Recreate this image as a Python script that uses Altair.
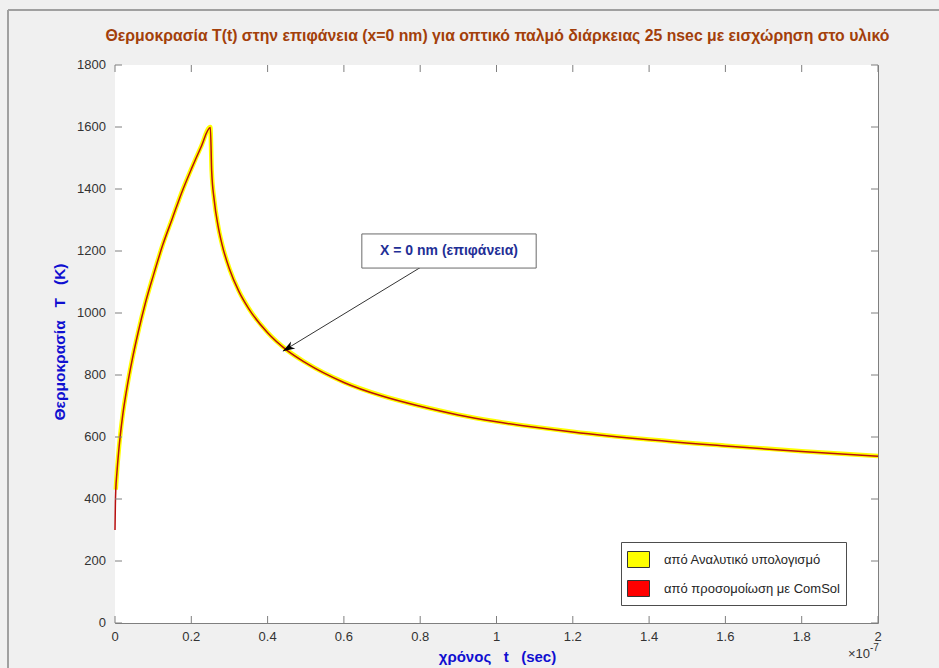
import altair as alt
import pandas as pd

# Surface temperature T(t) at x = 0 nm, time in units of 1e-7 s
t_analytic = [0.002, 0.005, 0.01, 0.02, 0.03, 0.045, 0.06, 0.08, 0.1, 0.125, 0.15, 0.175,
              0.2, 0.225, 0.25, 0.2534, 0.26, 0.27, 0.28, 0.3, 0.325, 0.35, 0.4, 0.45, 0.5,
              0.6, 0.7, 0.8, 0.9, 1.0, 1.2, 1.4, 1.6, 1.8, 2.0]
T_analytic = [430, 485, 560, 670, 750, 850, 935, 1035, 1120, 1220, 1305, 1390,
              1465, 1535, 1600, 1460, 1366, 1283, 1225, 1143, 1070, 1016, 937, 881, 840,
              777, 733, 700, 672, 650, 617, 592, 572, 554, 539]

t_comsol = [0.0, 0.001, 0.002, 0.005, 0.01, 0.02, 0.03, 0.045, 0.06, 0.08, 0.1, 0.125, 0.15,
            0.175, 0.2, 0.225, 0.25, 0.2534, 0.26, 0.27, 0.28, 0.3, 0.325, 0.35, 0.4, 0.45,
            0.5, 0.6, 0.7, 0.8, 0.9, 1.0, 1.2, 1.4, 1.6, 1.8, 2.0]
T_comsol = [300, 385, 428, 484, 558, 668, 749, 849, 934, 1034, 1119, 1219, 1304,
            1389, 1464, 1534, 1598, 1458, 1365, 1282, 1224, 1142, 1069, 1015, 936, 880,
            839, 776, 732, 699, 671, 649, 616, 591, 571, 553, 538]

series_names = ["από Αναλυτικό υπολογισμό", "από προσομοίωση με ComSol"]
series_colors = ["#ffff00", "#ff0000"]

x_ticks = [0, 0.2, 0.4, 0.6, 0.8, 1.0, 1.2, 1.4, 1.6, 1.8, 2.0]
y_ticks = [0, 200, 400, 600, 800, 1000, 1200, 1400, 1600, 1800]

title_text = ("Θερμοκρασία T(t) στην επιφάνεια (x=0 nm) για οπτικό παλμό "
              "διάρκειας 25 nsec με εισχώρηση στο υλικό")
x_title = "χρόνος\u00a0\u00a0\u00a0t\u00a0\u00a0\u00a0(sec)"
y_title = "Θερμοκρασία\u00a0\u00a0\u00a0T\u00a0\u00a0\u00a0(K)"

# annotation: label box (t range, T range), label centre, arrow tail and head
note_text = "X = 0 nm (επιφάνεια)"
note_box_t = [0.647, 1.104]
note_box_T = [1145, 1255]
note_center = [0.8755, 1200]
arrow_tail = [0.802, 1148]
arrow_head = [0.440, 877]

W, H = 763, 558
FONT = "Liberation Sans"
AXIS_GRAY = "#7f7f7f"
LABEL_GRAY = "#333333"
BLUE = "#0f0fd0"

analytic = pd.DataFrame({"t": t_analytic, "T": T_analytic})
comsol = pd.DataFrame({"t": t_comsol, "T": T_comsol})
legend_df = pd.DataFrame({"series": series_names})
xt_df = pd.DataFrame({"v": x_ticks})
yt_df = pd.DataFrame({"v": y_ticks})
one = pd.DataFrame({"k": [0]})

x_scale = alt.Scale(domain=[0, 2], nice=False, zero=False)
y_scale = alt.Scale(domain=[0, 1800], nice=False)


def X(field):
    return alt.X(field, scale=x_scale, axis=None)


def Y(field):
    return alt.Y(field, scale=y_scale, axis=None)


def label(text, **mark):
    return alt.Chart(pd.DataFrame({"s": [text]})).mark_text(**mark)


# white plot area
plot_bg = alt.Chart(one).mark_rect(fill="white").encode(
    x=alt.value(0), x2=alt.value(W), y=alt.value(0), y2=alt.value(H))

yellow = alt.Chart(analytic).mark_line(
    color="#ffff00", strokeWidth=4.5, interpolate="monotone"
).encode(x=X("t:Q"), y=Y("T:Q"))

red = alt.Chart(comsol).mark_line(
    color="#b80f0f", strokeWidth=1.5, interpolate="monotone"
).encode(x=X("t:Q"), y=Y("T:Q"))

# invisible carrier of the legend (filled rectangular patches)
patch = "M-1,-0.727H1V0.727H-1Z"
legend_layer = alt.Chart(legend_df).mark_point(
    shape=patch, filled=True, opacity=0
).encode(
    fill=alt.Fill(
        "series:N",
        scale=alt.Scale(domain=series_names, range=series_colors),
        legend=alt.Legend(
            title=None, orient="none", legendX=506, legendY=477,
            fillColor="white", strokeColor="#4d4d4d", padding=6,
            symbolType=patch, symbolSize=484, symbolOpacity=1,
            symbolStrokeColor="#333333", symbolStrokeWidth=1,
            labelFont=FONT, labelFontSize=13, labelColor="#262626",
            labelOffset=14, rowPadding=7, labelLimit=400,
        ),
    )
)

# inward ticks on all four sides of the box
tick_len = 7
rule_style = dict(color=AXIS_GRAY, strokeWidth=1)
x_ticks_bottom = alt.Chart(xt_df).mark_rule(**rule_style).encode(
    x=X("v:Q"), y=alt.value(H), y2=alt.value(H - tick_len))
x_ticks_top = alt.Chart(xt_df).mark_rule(**rule_style).encode(
    x=X("v:Q"), y=alt.value(0), y2=alt.value(tick_len))
y_ticks_left = alt.Chart(yt_df).mark_rule(**rule_style).encode(
    y=Y("v:Q"), x=alt.value(0), x2=alt.value(tick_len))
y_ticks_right = alt.Chart(yt_df).mark_rule(**rule_style).encode(
    y=Y("v:Q"), x=alt.value(W), x2=alt.value(W - tick_len))

# tick labels
x_labels = alt.Chart(xt_df).mark_text(
    font=FONT, fontSize=13, color=LABEL_GRAY, align="center", baseline="middle"
).encode(x=X("v:Q"), y=alt.value(H + 14), text=alt.Text("v:Q", format="~g"))
y_labels = alt.Chart(yt_df).mark_text(
    font=FONT, fontSize=13, color=LABEL_GRAY, align="right", baseline="middle"
).encode(y=Y("v:Q"), x=alt.value(-9), text=alt.Text("v:Q", format="d"))

# chart title and axis titles
title_mark = label(title_text, font=FONT, fontSize=15.8, fontWeight="bold", color="#a33f0a",
                   align="center", baseline="middle").encode(
    x=alt.value(W / 2 + 1), y=alt.value(-29), text="s:N")
x_title_mark = label(x_title, font=FONT, fontSize=15, fontWeight="bold", color=BLUE,
                     align="center", baseline="middle").encode(
    x=alt.value(W / 2 + 1), y=alt.value(H + 34), text="s:N")
y_title_mark = label(y_title, font=FONT, fontSize=15.5, fontWeight="bold", color=BLUE,
                     align="center", baseline="middle", angle=270).encode(
    x=alt.value(-55), y=alt.value(H / 2 - 2), text="s:N")

# annotation box, its text and the arrow
note_box = alt.Chart(pd.DataFrame({
    "t0": [note_box_t[0]], "t1": [note_box_t[1]], "T0": [note_box_T[0]], "T1": [note_box_T[1]]
})).mark_rect(fill="white", stroke="#6a6a6a", strokeWidth=1).encode(
    x=X("t0:Q"), x2="t1:Q", y=Y("T0:Q"), y2="T1:Q")
note_label = alt.Chart(pd.DataFrame({
    "t": [note_center[0]], "T": [note_center[1]], "txt": [note_text]
})).mark_text(font=FONT, fontSize=14, fontWeight="bold", color="#1f2f96",
              align="center", baseline="middle").encode(
    x=X("t:Q"), y=Y("T:Q"), text="txt:N")
arrow_line = alt.Chart(pd.DataFrame({
    "t0": [arrow_tail[0]], "T0": [arrow_tail[1]], "t1": [arrow_head[0]], "T1": [arrow_head[1]]
})).mark_rule(color="black", strokeWidth=0.8).encode(
    x=X("t0:Q"), x2="t1:Q", y=Y("T0:Q"), y2="T1:Q")
arrow_tip = alt.Chart(pd.DataFrame({"t": [arrow_head[0]], "T": [arrow_head[1]]})).mark_point(
    shape="M0,0L0.55,1.6L0,1.15L-0.55,1.6Z", filled=True, color="black",
    opacity=1, size=225, angle=239,
).encode(x=X("t:Q"), y=Y("T:Q"))

# exponent label of the time axis
exp_base = label("×10", font=FONT, fontSize=13, color=LABEL_GRAY, align="right",
                 baseline="middle").encode(x=alt.value(W - 8), y=alt.value(H + 31), text="s:N")
exp_power = label("-7", font=FONT, fontSize=10, color=LABEL_GRAY, align="left",
                  baseline="middle").encode(x=alt.value(W - 8), y=alt.value(H + 25), text="s:N")

# figure frame edges
frame_top = alt.Chart(one).mark_rule(color="#a0a0a0", strokeWidth=2).encode(
    x=alt.value(-107), x2=alt.value(W + 61), y=alt.value(-55))
frame_left = alt.Chart(one).mark_rule(color="#a0a0a0", strokeWidth=2).encode(
    x=alt.value(-107), y=alt.value(-55), y2=alt.value(H + 45))

chart = alt.layer(
    plot_bg, frame_top, frame_left,
    yellow, red, legend_layer,
    x_ticks_bottom, x_ticks_top, y_ticks_left, y_ticks_right,
    x_labels, y_labels, title_mark, x_title_mark, y_title_mark,
    arrow_line, arrow_tip, note_box, note_label,
    exp_base, exp_power,
).properties(
    width=W, height=H,
    autosize=alt.AutoSizeParams(type="none"),
    padding={"left": 115, "top": 65, "right": 61, "bottom": 45},
).configure(
    background="#f0f0f0",
).configure_view(
    fill="white", stroke=AXIS_GRAY, strokeWidth=1,
)

chart.save("out.html", embed_options={"renderer": "svg", "actions": False})
